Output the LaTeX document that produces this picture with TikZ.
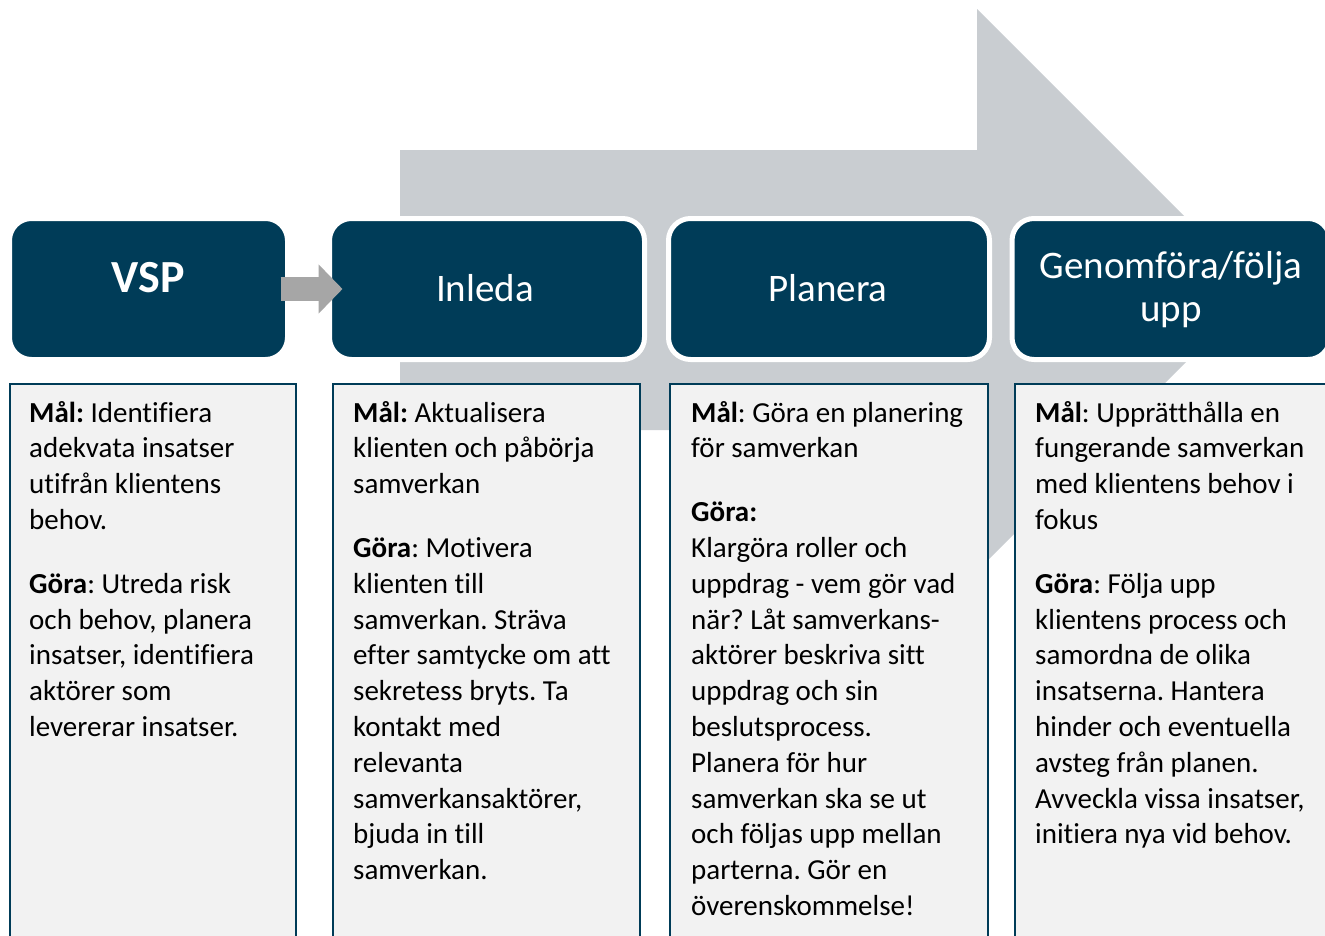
\documentclass[tikz,border=0pt]{standalone}
\usepackage{fontspec}
\setmainfont{Carlito}[Ligatures={NoCommon,NoContextual}]
\frenchspacing
\usetikzlibrary{arrows.meta}
\definecolor{navy}{RGB}{0,60,88}
\definecolor{biggrey}{RGB}{201,205,209}
\definecolor{smallgrey}{RGB}{166,166,166}
\definecolor{boxfill}{RGB}{242,242,242}
\begin{document}
\begin{tikzpicture}[x=1pt,y=-1pt,
  topbox/.style={fill=navy, draw=white, line width=5pt, rounded corners=22pt,
    minimum height=141pt, inner sep=0pt, outer sep=0pt},
  textbox/.style={fill=boxfill, draw=navy, line width=2pt, inner sep=0pt,
    outer sep=0pt, anchor=north west, minimum height=600pt},
  headtxt/.style={text=white, font=\fontsize{39}{43}\selectfont, anchor=base, inner sep=0pt},
  bodytxt/.style={anchor=base west, inner sep=0pt, font=\fontsize{29}{35.8}\selectfont},
  bararrow/.style={draw=smallgrey, line width=24pt,
    -{Triangle[length=24pt,width=48pt]}, shorten <=-7pt, shorten >=-13pt}
]
\useasboundingbox (0,0) rectangle (1325,935);
\clip (0,0) rectangle (1325,935);
\fill[white] (0,0) rectangle (1325,935);

% big background arrow
\fill[biggrey] (400,150) -- (977,150) -- (977,9) -- (1258,290) -- (977,571)
  -- (977,430) -- (400,430) -- cycle;

% lower text boxes
\node[textbox, minimum width=286pt] (vspbox) at (10,384) {};
\node[textbox, minimum width=307pt] (inlbox) at (333,384) {};
\node[textbox, minimum width=318pt] (planbox) at (670,384) {};
\node[textbox, minimum width=330pt] (genbox) at (1015,384) {};

% top heading boxes
\node[topbox, minimum width=278pt] (vsp) at (148.5,289) {};
\node[topbox, minimum width=315pt] (inl) at (487,289) {};
\node[topbox, minimum width=321pt] (plan) at (829,289) {};
\node[topbox, minimum width=318pt] (gen) at (1171,289) {};

% small arrow VSP -> Inleda
\draw[bararrow] (vsp.east) -- (inl.west);

% heading texts
\node[headtxt, font=\bfseries\fontsize{46}{50}\selectfont] (vsplbl) at (148.5,292.5) {VSP};
\node[headtxt] (inllbl) at (485,301) {Inleda};
\node[headtxt] (planlbl) at (828,301) {Planera};
\node[headtxt] (genlbla) at (1171,278) {Genomföra/följa};
\node[headtxt] (genlblb) at (1171,321) {upp};

% body texts
\node[bodytxt] (vsptxt) at (29,422) {\parbox[t]{300pt}{\raggedright
\textbf{Mål:} Identifiera\\
adekvata insatser\\
utifrån klientens\\
behov.\\[28pt]
\textbf{Göra}: Utreda risk\\
och behov, planera\\
insatser, identifiera\\
aktörer som\\
levererar insatser.}};

\node[bodytxt] (inltxt) at (353,422) {\parbox[t]{300pt}{\raggedright
\textbf{Mål:} Aktualisera\\
klienten och påbörja\\
samverkan\\[28pt]
\textbf{Göra}: Motivera\\
klienten till\\
samverkan. Sträva\\
efter samtycke om att\\
sekretess bryts. Ta\\
kontakt med\\
relevanta\\
samverkansaktörer,\\
bjuda in till\\
samverkan.}};

\node[bodytxt] (plantxt) at (691,422) {\parbox[t]{300pt}{\raggedright
\textbf{Mål}: Göra en planering\\
för samverkan\\[28pt]
\textbf{Göra:}\\
Klargöra roller och\\
uppdrag - vem gör vad\\
när? Låt samverkans-\\
aktörer beskriva sitt\\
uppdrag och sin\\
beslutsprocess.\\
Planera för hur\\
samverkan ska se ut\\
och följas upp mellan\\
parterna. Gör en\\
överenskommelse!}};

\node[bodytxt] (gentxt) at (1035,422) {\parbox[t]{300pt}{\raggedright
\textbf{Mål}: Upprätthålla en\\
fungerande samverkan\\
med klientens behov i\\
fokus\\[28pt]
\textbf{Göra}: Följa upp\\
klientens process och\\
samordna de olika\\
insatserna. Hantera\\
hinder och eventuella\\
avsteg från planen.\\
Avveckla vissa insatser,\\
initiera nya vid behov.}};
\end{tikzpicture}
\end{document}
